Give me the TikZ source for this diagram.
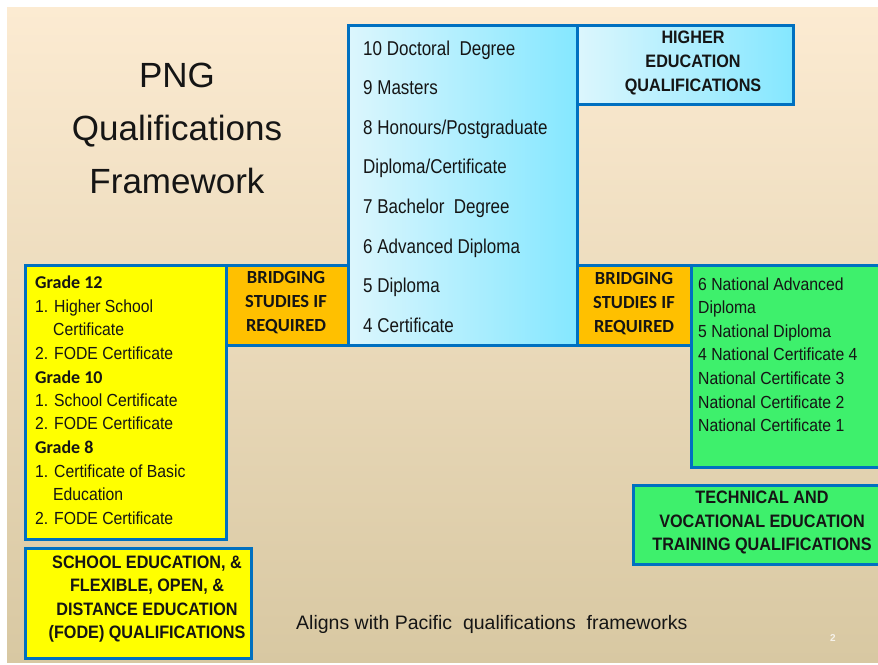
\documentclass[tikz,border=0pt]{standalone}
\usepackage{fontspec}
\setmainfont{Liberation Sans}
\newfontfamily\condfont{Liberation Sans}[FakeStretch=0.85]
\newfontfamily\listfont{Liberation Sans}[FakeStretch=0.9]
\newfontfamily\calfont{Carlito}
\usetikzlibrary{shadows}
\definecolor{bgtop}{HTML}{FCEBD2}
\definecolor{bgbot}{HTML}{D8C8A2}
\definecolor{bordblue}{HTML}{0070C0}
\definecolor{orangefill}{HTML}{FFC000}
\definecolor{yellowfill}{HTML}{FFFF00}
\definecolor{greenfill}{RGB}{62,240,108}
\definecolor{cyanlight}{HTML}{DCF6FD}
\definecolor{cyandeep}{HTML}{84E7FF}
\definecolor{ink}{HTML}{151515}
\definecolor{pagenum}{HTML}{F6F2EA}
\begin{document}
\begin{tikzpicture}[x=1pt,y=-1pt,
  box/.style={draw=bordblue, line width=3pt, inner sep=0pt, anchor=north west,
    drop shadow={shadow xshift=1.5pt, shadow yshift=-1.5pt, opacity=0.35, fill=black!70}},
  txt/.style={inner sep=0pt, anchor=base west, text=ink},
  ctxt/.style={inner sep=0pt, anchor=base, text=ink},
  titlefont/.style={font=\fontsize{35}{40}\selectfont},
  hefont/.style={font=\condfont\fontsize{20}{24}\selectfont},
  lstfont/.style={font=\listfont\fontsize{17.5}{21}\selectfont},
  gradefont/.style={font=\calfont\bfseries\fontsize{18}{21}\selectfont},
  bridgefont/.style={font=\calfont\bfseries\fontsize{18.5}{22}\selectfont},
  capsfont/.style={font=\listfont\bfseries\fontsize{18}{21}\selectfont}]
\clip (0,0) rectangle (878,664);
\fill[white] (0,0) rectangle (878,664);
\shade[top color=bgtop, bottom color=bgbot] (7,7) rectangle (878,662);

% title
\node[ctxt, titlefont] (t1) at (177,87) {PNG};
\node[ctxt, titlefont] (t2) at (177,140) {Qualifications};
\node[ctxt, titlefont] (t3) at (177,193) {Framework};

% boxes
\node[box, fill=yellowfill, minimum width=201pt, minimum height=274pt] (school) at (24,264) {};
\node[box, fill=orangefill, minimum width=122pt, minimum height=80pt] (bridgeL) at (225,264) {};
\node[box, fill=greenfill, minimum width=194pt, minimum height=202pt] (tvet) at (690,264) {};
\node[box, fill=orangefill, minimum width=114pt, minimum height=80pt] (bridgeR) at (576,264) {};
\node[box, left color=cyanlight, right color=cyandeep, minimum width=229pt, minimum height=320pt] (higher) at (347,24) {};
\node[box, left color=cyanlight, right color=cyandeep, minimum width=216pt, minimum height=79pt] (heLabel) at (576,24) {};
\node[box, fill=greenfill, minimum width=252pt, minimum height=79pt] (tvetLabel) at (632,484) {};
\node[box, fill=yellowfill, minimum width=226pt, minimum height=110pt] (schoolLabel) at (24,547) {};

% higher education levels
\foreach \t [count=\i, evaluate=\i as \yy using 55+(\i-1)*39.6] in
  {10 Doctoral\ \ Degree, 9 Masters, 8 Honours/Postgraduate, Diploma/Certificate,
   7 Bachelor\ \ Degree, 6 Advanced Diploma, 5 Diploma, 4 Certificate}
  {\node[txt, hefont] (he\i) at (363,\yy) {\t};}

% higher education label
\node[ctxt, capsfont] (heL1) at (693,43) {HIGHER};
\node[ctxt, capsfont] (heL2) at (693,67) {EDUCATION};
\node[ctxt, capsfont] (heL3) at (693,91) {QUALIFICATIONS};

% bridging
\node[ctxt, bridgefont] (bl1) at (286,283) {BRIDGING};
\node[ctxt, bridgefont] (bl2) at (286,307) {STUDIES IF};
\node[ctxt, bridgefont] (bl3) at (286,331) {REQUIRED};
\node[ctxt, bridgefont] (br1) at (634,284) {BRIDGING};
\node[ctxt, bridgefont] (br2) at (634,308) {STUDIES IF};
\node[ctxt, bridgefont] (br3) at (634,332) {REQUIRED};

% school list
\node[txt, gradefont] (s1) at (35,288) {Grade 12};
\node[txt, lstfont] (s2) at (35,312) {1. Higher School};
\node[txt, lstfont] (s3) at (53,335) {Certificate};
\node[txt, lstfont] (s4) at (35,359) {2. FODE Certificate};
\node[txt, gradefont] (s5) at (35,383) {Grade 10};
\node[txt, lstfont] (s6) at (35,406) {1. School Certificate};
\node[txt, lstfont] (s7) at (35,429) {2. FODE Certificate};
\node[txt, gradefont] (s8) at (35,453) {Grade 8};
\node[txt, lstfont] (s9) at (35,477) {1. Certificate of Basic};
\node[txt, lstfont] (s10) at (53,500) {Education};
\node[txt, lstfont] (s11) at (35,524) {2. FODE Certificate};

% tvet list
\foreach \t [count=\i, evaluate=\i as \yy using 290+(\i-1)*23.6] in
  {6 National Advanced, Diploma, 5 National Diploma, 4 National Certificate 4,
   National Certificate 3, National Certificate 2, National Certificate 1}
  {\node[txt, lstfont] (tv\i) at (698,\yy) {\t};}

% tvet label
\node[ctxt, capsfont] (tvL1) at (762,503) {TECHNICAL AND};
\node[ctxt, capsfont] (tvL2) at (762,527) {VOCATIONAL EDUCATION};
\node[ctxt, capsfont] (tvL3) at (762,550) {TRAINING QUALIFICATIONS};

% school label
\node[ctxt, capsfont] (scL1) at (147,568) {SCHOOL EDUCATION, \&};
\node[ctxt, capsfont] (scL2) at (147,591) {FLEXIBLE, OPEN, \&};
\node[ctxt, capsfont] (scL3) at (147,615) {DISTANCE EDUCATION};
\node[ctxt, capsfont] (scL4) at (147,638) {(FODE) QUALIFICATIONS};

% footer
\node[txt, font=\fontsize{19.5}{23}\selectfont] (footer) at (296,629) {Aligns with Pacific\ \ qualifications\ \ frameworks};
\node[txt, text=pagenum, font=\bfseries\fontsize{10}{12}\selectfont] (pnum) at (830,641) {2};
\end{tikzpicture}
\end{document}
